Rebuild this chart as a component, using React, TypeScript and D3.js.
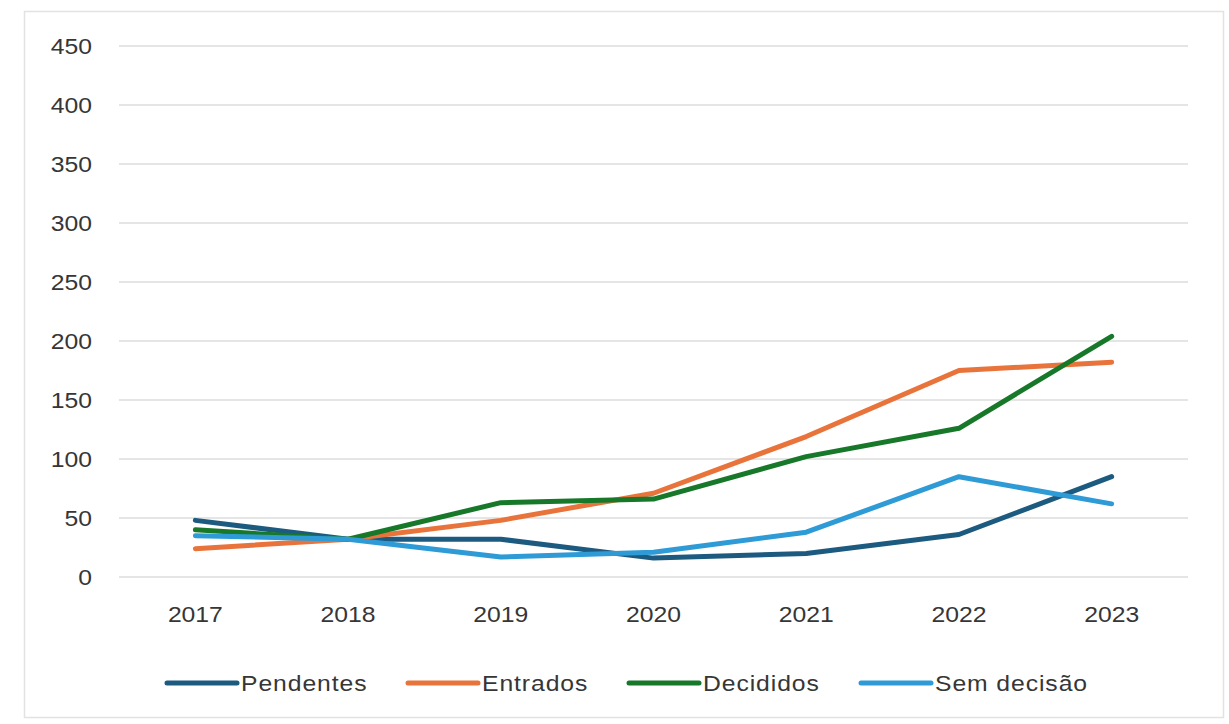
import React from "react";
import * as d3 from "d3";

const years = ["2017", "2018", "2019", "2020", "2021", "2022", "2023"];
const yTicks = [0, 50, 100, 150, 200, 250, 300, 350, 400, 450];

const pendentes = [48, 32, 32, 16, 20, 36, 85];
const entrados = [24, 32, 48, 71, 119, 175, 182];
const decididos = [40, 32, 63, 66, 102, 126, 204];
const semDecisao = [35, 32, 17, 21, 38, 85, 62];

const seriesNames = ["Pendentes", "Entrados", "Decididos", "Sem decisão"];
const seriesColors = ["#1d5a80", "#e8743b", "#17782a", "#2e9bd6"];
const seriesValues = [pendentes, entrados, decididos, semDecisao];

const W = 1229;
const H = 724;
const plotLeft = 119;
const plotRight = 1188;
const plotTop = 46;
const plotBottom = 577;

const font = "'Liberation Sans', Arial, sans-serif";
const textColor = "#363636";

// Label text is drawn slightly widened horizontally
function Label(props: {
  x: number;
  y: number;
  anchor: "start" | "middle" | "end";
  spacing?: number;
  children: React.ReactNode;
}) {
  return (
    <text
      transform={`translate(${props.x},${props.y}) scale(1.15,1)`}
      dy="0.35em"
      textAnchor={props.anchor}
      fontFamily={font}
      fontSize={21.5}
      letterSpacing={props.spacing ?? 0}
      fill={textColor}
    >
      {props.children}
    </text>
  );
}

export default function App() {
  const x = d3
    .scalePoint<string>()
    .domain(years)
    .range([plotLeft, plotRight])
    .padding(0.5);
  const y = d3.scaleLinear().domain([0, 450]).range([plotBottom, plotTop]);

  const line = d3
    .line<number>()
    .x((_, i) => x(years[i]) as number)
    .y((d) => y(d));

  const legendX = [167, 408, 629, 861];
  const swatchW = 70;
  const legendY = 683;

  return (
    <svg
      width={W}
      height={H}
      style={{ position: "absolute", left: 0, top: 0, background: "#fff" }}
    >
      <rect x={0} y={0} width={W} height={H} fill="#fff" />
      <rect
        x={24.5}
        y={11.5}
        width={1199}
        height={706}
        fill="#fff"
        stroke="#e2e2e2"
        strokeWidth={1.5}
      />
      {yTicks.map((t) => (
        <g key={t}>
          <line
            x1={plotLeft}
            x2={plotRight}
            y1={y(t)}
            y2={y(t)}
            stroke="#dcdcdc"
            strokeWidth={1.5}
          />
          <Label x={92} y={y(t)} anchor="end">
            {t}
          </Label>
        </g>
      ))}
      {years.map((yr) => (
        <Label key={yr} x={x(yr) as number} y={614} anchor="middle">
          {yr}
        </Label>
      ))}
      {seriesValues.map((vals, i) => (
        <path
          key={seriesNames[i]}
          d={line(vals) as string}
          fill="none"
          stroke={seriesColors[i]}
          strokeWidth={5}
          strokeLinejoin="round"
          strokeLinecap="round"
        />
      ))}
      {seriesNames.map((name, i) => (
        <g key={name}>
          <line
            x1={legendX[i]}
            x2={legendX[i] + swatchW}
            y1={legendY}
            y2={legendY}
            stroke={seriesColors[i]}
            strokeWidth={5}
            strokeLinecap="round"
          />
          <Label
            x={legendX[i] + swatchW + 4}
            y={legendY}
            anchor="start"
            spacing={0.8}
          >
            {name}
          </Label>
        </g>
      ))}
    </svg>
  );
}
